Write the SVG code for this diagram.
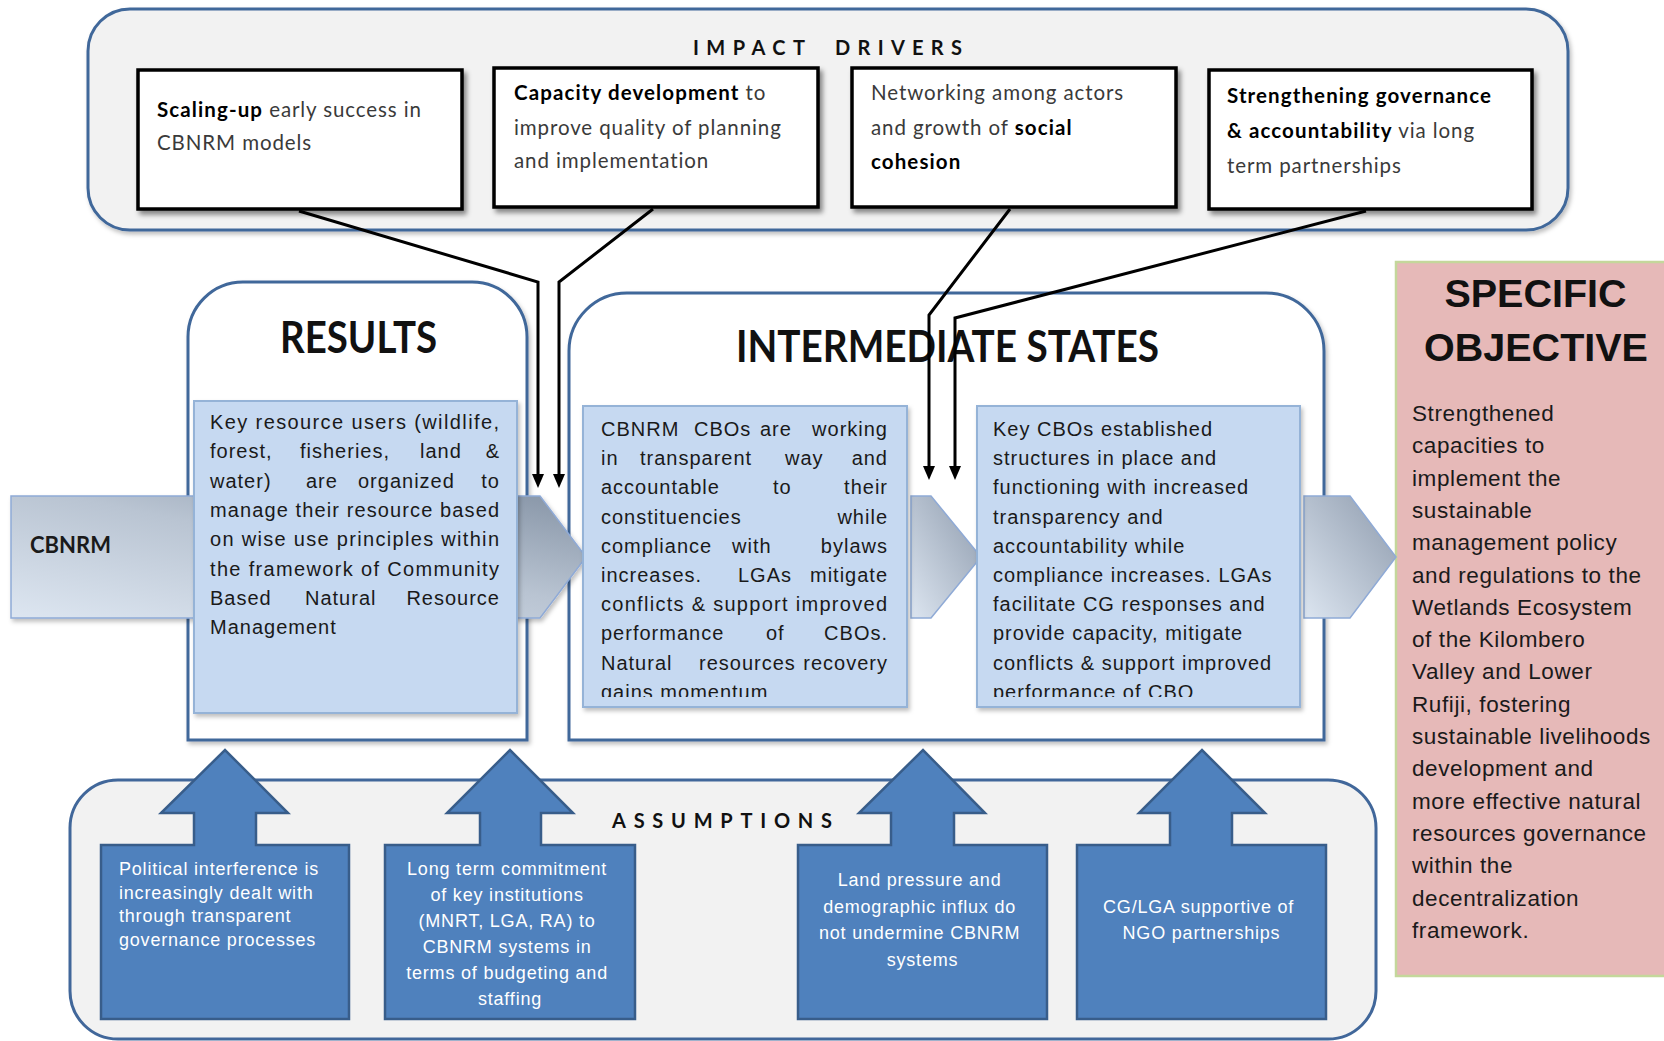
<svg xmlns="http://www.w3.org/2000/svg" width="1664" height="1041" viewBox="0 0 1664 1041">
  <defs>
    <style>
      .panel { fill: #f2f2f2; stroke: #41679a; stroke-width: 3; }
      .stage { fill: #ffffff; stroke: #41679a; stroke-width: 3; }
      .driver { fill: #ffffff; stroke: #000000; stroke-width: 3.5; }
      .inner { fill: #c6d9f1; stroke: #95b3d7; stroke-width: 2; }
      .assume { fill: #4f81bd; stroke: #385d8a; stroke-width: 2.5; }
      .chev { stroke: #8faad6; stroke-width: 1.5; }
      .objective { fill: #e6b9b8; stroke: #c4d79b; stroke-width: 2.5; }
      .cap { font-family: Lato, "Open Sans", sans-serif; font-weight: 700; fill: #111111; }
      .drv { font-family: Lato, "Open Sans", sans-serif; font-size: 20.5px; fill: #3a3a3a; letter-spacing: 0.9px; }
      .drv .b { font-weight: 700; fill: #000000; letter-spacing: 1.1px; }
      .body { font-family: "Liberation Sans", Arial, sans-serif; font-size: 20px; fill: #1a1a1a; letter-spacing: 1px; }
      .obj { font-family: "Liberation Sans", Arial, sans-serif; font-size: 22.5px; fill: #1a1a1a; letter-spacing: 0.6px; }
      .asm { font-family: "Liberation Sans", Arial, sans-serif; font-size: 18px; fill: #ffffff; letter-spacing: 0.8px; }
      .link { fill: none; stroke: #000000; stroke-width: 3; stroke-linejoin: miter; }
    </style>
    <filter id="shadow" x="-5%" y="-5%" width="115%" height="120%">
      <feDropShadow dx="3" dy="4" stdDeviation="2.5" flood-color="#000000" flood-opacity="0.45"/>
    </filter>
    <filter id="soft" x="-5%" y="-5%" width="115%" height="120%">
      <feDropShadow dx="2" dy="3" stdDeviation="2" flood-color="#000000" flood-opacity="0.25"/>
    </filter>
    <linearGradient id="band" x1="0" y1="1" x2="1" y2="0">
      <stop offset="0" stop-color="#dde6f1"/>
      <stop offset="0.55" stop-color="#b9c4d2"/>
      <stop offset="1" stop-color="#8694a6"/>
    </linearGradient>
    <linearGradient id="chevfill" x1="0" y1="1" x2="1" y2="0">
      <stop offset="0" stop-color="#dce5f0"/>
      <stop offset="1" stop-color="#8e9bad"/>
    </linearGradient>
    <marker id="tip" viewBox="0 0 14 12" refX="4" refY="6" markerWidth="14" markerHeight="12" markerUnits="userSpaceOnUse" orient="auto">
      <path d="M0,0 L14,6 L0,12 Z" fill="#000000"/>
    </marker>
    <clipPath id="clipA"><rect x="583" y="406" width="324" height="291"/></clipPath>
    <clipPath id="clipB"><rect x="977" y="406" width="323" height="291"/></clipPath>
  </defs>

  <!-- Impact drivers panel -->
  <g id="impact-drivers">
    <rect class="panel" x="88" y="9" width="1480" height="221" rx="42" filter="url(#soft)"/>
    <text class="cap" font-size="20" y="55">
      <tspan x="693" textLength="118" lengthAdjust="spacing" letter-spacing="6">IMPACT</tspan>
      <tspan x="835" textLength="133" lengthAdjust="spacing" letter-spacing="6">DRIVERS</tspan>
    </text>
  </g>

  <g id="driver-scaling">
    <rect class="driver" x="138" y="70" width="324" height="139" filter="url(#shadow)"/>
    <text class="drv" x="157" y="117"><tspan class="b">Scaling-up</tspan> early success in</text>
    <text class="drv" x="157" y="150">CBNRM models</text>
  </g>
  <g id="driver-capacity">
    <rect class="driver" x="494" y="68" width="324" height="139" filter="url(#shadow)"/>
    <text class="drv" x="514" y="100"><tspan class="b">Capacity development</tspan> to</text>
    <text class="drv" x="514" y="135">improve quality of planning</text>
    <text class="drv" x="514" y="168">and implementation</text>
  </g>
  <g id="driver-networking">
    <rect class="driver" x="852" y="68" width="324" height="139" filter="url(#shadow)"/>
    <text class="drv" x="871" y="100">Networking among actors</text>
    <text class="drv" x="871" y="135">and growth of <tspan class="b">social</tspan></text>
    <text class="drv" x="871" y="169"><tspan class="b">cohesion</tspan></text>
  </g>
  <g id="driver-governance">
    <rect class="driver" x="1209" y="70" width="323" height="139" filter="url(#shadow)"/>
    <text class="drv" x="1227" y="103"><tspan class="b">Strengthening governance</tspan></text>
    <text class="drv" x="1227" y="138"><tspan class="b">&amp; accountability</tspan> via long</text>
    <text class="drv" x="1227" y="173">term partnerships</text>
  </g>

  <!-- Results stage -->
  <g id="results">
    <path class="stage" d="M188,740 V337 A55,55 0 0 1 243,282 H472 A55,55 0 0 1 527,337 V740 Z" filter="url(#soft)"/>
    <text class="cap" x="280" y="353" font-size="44" textLength="157" lengthAdjust="spacingAndGlyphs">RESULTS</text>
  </g>

  <!-- Intermediate states stage -->
  <g id="intermediate-states">
    <path class="stage" d="M569,740 V351 A58,58 0 0 1 627,293 H1266 A58,58 0 0 1 1324,351 V740 Z" filter="url(#soft)"/>
    <text class="cap" x="736" y="362" font-size="44" textLength="423" lengthAdjust="spacingAndGlyphs">INTERMEDIATE STATES</text>
  </g>

  <!-- Specific objective -->
  <g id="specific-objective">
    <rect class="objective" x="1396" y="262" width="290" height="714"/>
    <text font-family="'Liberation Sans', Arial, sans-serif" font-weight="700" font-size="39.5" fill="#111111" text-anchor="middle">
      <tspan x="1541" y="307">SPECIFIC</tspan>
      <tspan x="1536" y="361">OBJECTIVE</tspan>
    </text>
    <text class="obj">
      <tspan x="1412" y="421">Strengthened</tspan>
      <tspan x="1412" y="453.3">capacities to</tspan>
      <tspan x="1412" y="485.6">implement the</tspan>
      <tspan x="1412" y="517.9">sustainable</tspan>
      <tspan x="1412" y="550.2">management policy</tspan>
      <tspan x="1412" y="582.5">and regulations to the</tspan>
      <tspan x="1412" y="614.8">Wetlands Ecosystem</tspan>
      <tspan x="1412" y="647.1">of the Kilombero</tspan>
      <tspan x="1412" y="679.4">Valley and Lower</tspan>
      <tspan x="1412" y="711.7">Rufiji, fostering</tspan>
      <tspan x="1412" y="744">sustainable livelihoods</tspan>
      <tspan x="1412" y="776.3">development and</tspan>
      <tspan x="1412" y="808.6">more effective natural</tspan>
      <tspan x="1412" y="840.9">resources governance</tspan>
      <tspan x="1412" y="873.2">within the</tspan>
      <tspan x="1412" y="905.5">decentralization</tspan>
      <tspan x="1412" y="937.8">framework.</tspan>
    </text>
  </g>

  <!-- Assumptions panel -->
  <g id="assumptions">
    <rect class="panel" x="70" y="780" width="1306" height="259" rx="48"/>
    <text class="cap" x="612" y="828" font-size="20" textLength="226" lengthAdjust="spacing" letter-spacing="6">ASSUMPTIONS</text>
  </g>

  <!-- Flow chevrons -->
  <g id="cbnrm">
    <path class="chev" fill="url(#band)" d="M11,496 H540 L586,557 L540,618 H11 Z" filter="url(#soft)"/>
    <text x="30" y="553" font-family="Lato, 'Open Sans', sans-serif" font-weight="700" font-size="22" fill="#1a1a1a">CBNRM</text>
  </g>
  <g id="step-2">
    <path class="chev" fill="url(#chevfill)" d="M911,496 H931 L981,557 L931,618 H911 Z"/>
  </g>
  <g id="step-3">
    <path class="chev" fill="url(#chevfill)" d="M1304,496 H1350 L1396,557 L1350,618 H1304 Z"/>
  </g>

  <!-- Results description -->
  <g id="results-text">
    <rect class="inner" x="194" y="401" width="323" height="312" filter="url(#soft)"/>
    <text class="body" x="210" y="429" textLength="290" lengthAdjust="spacing">Key resource users (wildlife,</text>
    <text class="body" y="458.3"><tspan x="210">forest,</tspan><tspan x="300">fisheries,</tspan><tspan x="420">land</tspan><tspan x="500" text-anchor="end">&amp;</tspan></text>
    <text class="body" y="487.6"><tspan x="210">water)</tspan><tspan x="306">are</tspan><tspan x="358">organized</tspan><tspan x="500" text-anchor="end">to</tspan></text>
    <text class="body" x="210" y="516.9" textLength="290" lengthAdjust="spacing">manage their resource based</text>
    <text class="body" x="210" y="546.2" textLength="290" lengthAdjust="spacing">on wise use principles within</text>
    <text class="body" x="210" y="575.5" textLength="290" lengthAdjust="spacing">the framework of Community</text>
    <text class="body" y="604.8"><tspan x="210">Based</tspan><tspan x="305">Natural</tspan><tspan x="500" text-anchor="end">Resource</tspan></text>
    <text class="body" x="210" y="634.1">Management</text>
  </g>

  <!-- Intermediate state 1 -->
  <g id="state-cbos-working">
    <rect class="inner" x="583" y="406" width="324" height="301" filter="url(#soft)"/>
    <g clip-path="url(#clipA)">
      <text class="body" y="436"><tspan x="601">CBNRM</tspan><tspan x="694">CBOs</tspan><tspan x="760">are</tspan><tspan x="888" text-anchor="end">working</tspan></text>
      <text class="body" y="465.2"><tspan x="601">in</tspan><tspan x="640">transparent</tspan><tspan x="785">way</tspan><tspan x="888" text-anchor="end">and</tspan></text>
      <text class="body" y="494.4"><tspan x="601">accountable</tspan><tspan x="773">to</tspan><tspan x="888" text-anchor="end">their</tspan></text>
      <text class="body" y="523.6"><tspan x="601">constituencies</tspan><tspan x="888" text-anchor="end">while</tspan></text>
      <text class="body" y="552.8"><tspan x="601">compliance</tspan><tspan x="732">with</tspan><tspan x="888" text-anchor="end">bylaws</tspan></text>
      <text class="body" y="582"><tspan x="601">increases.</tspan><tspan x="738">LGAs</tspan><tspan x="888" text-anchor="end">mitigate</tspan></text>
      <text class="body" x="601" y="611.2" textLength="287" lengthAdjust="spacing">conflicts &amp; support improved</text>
      <text class="body" y="640.4"><tspan x="601">performance</tspan><tspan x="766">of</tspan><tspan x="888" text-anchor="end">CBOs.</tspan></text>
      <text class="body" y="669.6"><tspan x="601">Natural</tspan><tspan x="699">resources</tspan><tspan x="888" text-anchor="end">recovery</tspan></text>
      <text class="body" x="601" y="698.8">gains momentum</text>
    </g>
  </g>

  <!-- Intermediate state 2 -->
  <g id="state-key-cbos">
    <rect class="inner" x="977" y="406" width="323" height="301" filter="url(#soft)"/>
    <g clip-path="url(#clipB)">
      <text class="body">
        <tspan x="993" y="436">Key CBOs established</tspan>
        <tspan x="993" y="465.2">structures in place and</tspan>
        <tspan x="993" y="494.4">functioning with increased</tspan>
        <tspan x="993" y="523.6">transparency and</tspan>
        <tspan x="993" y="552.8">accountability while</tspan>
        <tspan x="993" y="582">compliance increases.  LGAs</tspan>
        <tspan x="993" y="611.2">facilitate CG responses and</tspan>
        <tspan x="993" y="640.4">provide capacity, mitigate</tspan>
        <tspan x="993" y="669.6">conflicts &amp; support improved</tspan>
        <tspan x="993" y="698.8">performance of CBO</tspan>
      </text>
    </g>
  </g>

  <!-- Assumption block arrows -->
  <g id="assumption-political">
    <path class="assume" d="M101,845 H194 V813 H161 L225,750 L288,813 H256 V845 H349 V1019 H101 Z"/>
    <text class="asm">
      <tspan x="119" y="875">Political interference is</tspan>
      <tspan x="119" y="898.5">increasingly dealt with</tspan>
      <tspan x="119" y="922">through transparent</tspan>
      <tspan x="119" y="945.5">governance processes</tspan>
    </text>
  </g>
  <g id="assumption-commitment">
    <path class="assume" d="M385,845 H480 V813 H447 L510,750 L573,813 H541 V845 H635 V1019 H385 Z"/>
    <text class="asm" text-anchor="middle">
      <tspan x="510" y="875">Long term commitment</tspan>
      <tspan x="510" y="901">of key institutions</tspan>
      <tspan x="510" y="927">(MNRT, LGA, RA) to</tspan>
      <tspan x="510" y="953">CBNRM systems in</tspan>
      <tspan x="510" y="979">terms of budgeting and</tspan>
      <tspan x="510" y="1005">staffing</tspan>
    </text>
  </g>
  <g id="assumption-land">
    <path class="assume" d="M798,845 H891 V813 H859 L923,750 L985,813 H954 V845 H1047 V1019 H798 Z"/>
    <text class="asm" text-anchor="middle">
      <tspan x="922.5" y="886">Land pressure and</tspan>
      <tspan x="922.5" y="912.5">demographic influx do</tspan>
      <tspan x="922.5" y="939">not undermine CBNRM</tspan>
      <tspan x="922.5" y="965.5">systems</tspan>
    </text>
  </g>
  <g id="assumption-partnerships">
    <path class="assume" d="M1077,845 H1170 V813 H1139 L1202,750 L1265,813 H1232 V845 H1326 V1019 H1077 Z"/>
    <text class="asm" text-anchor="middle">
      <tspan x="1201.5" y="912.5">CG/LGA supportive of</tspan>
      <tspan x="1201.5" y="939">NGO partnerships</tspan>
    </text>
  </g>

  <!-- Driver connectors -->
  <g id="connectors">
    <polyline class="link" points="299,211 538,282 538,478" marker-end="url(#tip)"/>
    <polyline class="link" points="653,209 559,282 559,478" marker-end="url(#tip)"/>
    <polyline class="link" points="1010,209 929,315 929,470" marker-end="url(#tip)"/>
    <polyline class="link" points="1366,211 955,318 955,470" marker-end="url(#tip)"/>
  </g>
</svg>
